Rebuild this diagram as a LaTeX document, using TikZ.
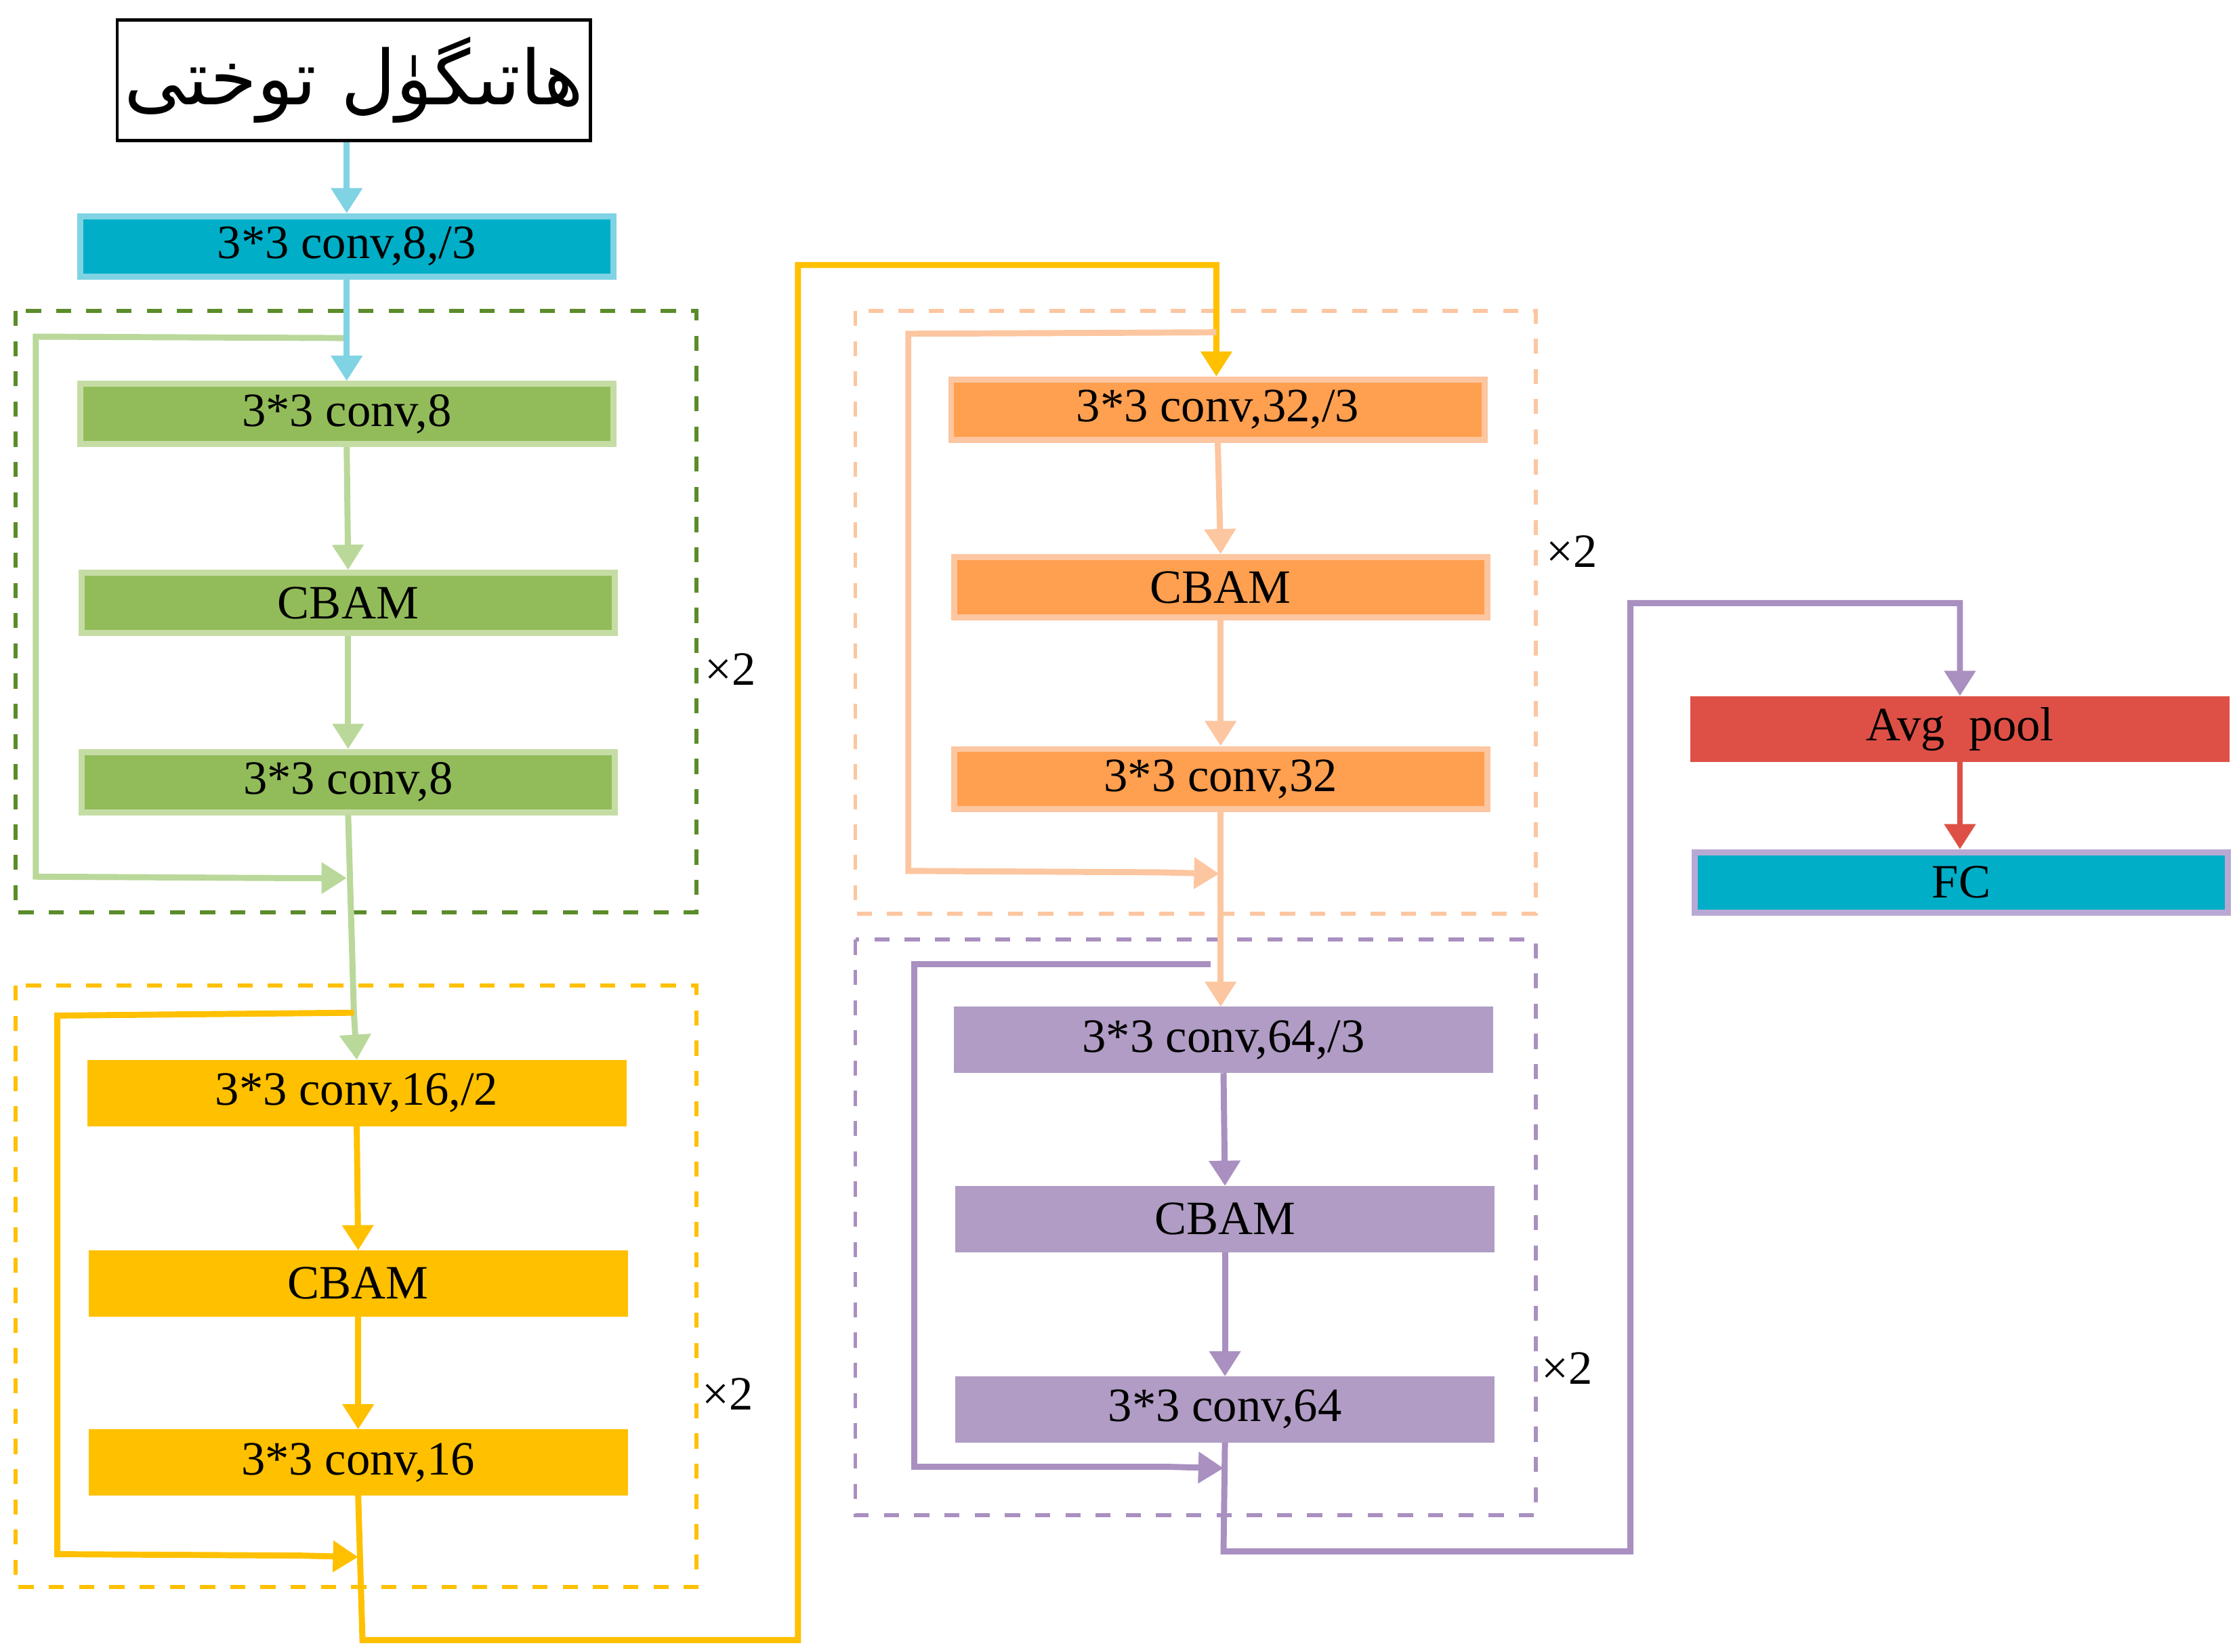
\documentclass[tikz,border=0pt]{standalone}
\usepackage{fontspec}
\setmainfont{Liberation Serif}
\newfontfamily\arabicfont[Script=Arabic]{DejaVu Sans}
\TeXXeTstate=1
\usetikzlibrary{arrows.meta}
\definecolor{cyanf}{HTML}{00AEC7}
\definecolor{cyanb}{HTML}{7FD3E3}
\definecolor{greenf}{HTML}{92BC5A}
\definecolor{greenb}{HTML}{C5DDA5}
\definecolor{greenl}{HTML}{B9D89A}
\definecolor{greend}{HTML}{5B8C2A}
\definecolor{yel}{HTML}{FFC000}
\definecolor{orf}{HTML}{FF9F50}
\definecolor{orb}{HTML}{FCC6A0}
\definecolor{purf}{HTML}{B09CC4}
\definecolor{purl}{HTML}{A990C0}
\definecolor{redf}{HTML}{DE5046}
\definecolor{fcb}{HTML}{B7A9D4}
\begin{document}
\begin{tikzpicture}[x=0.01cm,y=-0.01cm,
  blk/.style={rectangle, line width=1.2pt, minimum width=3.72cm, minimum height=0.42cm, inner sep=0pt, font=\fontsize{9.5}{11}\selectfont},
  con/.style={line width=1.2pt,-{Triangle[length=5pt,width=6pt]}},
  ln/.style={line width=1.2pt},
  grp/.style={dashed, line width=0.8pt},
  rep/.style={font=\fontsize{9.5}{11}\selectfont}]
\useasboundingbox (0,0) rectangle (1560,1153);
% input
\node[draw=black, line width=0.6pt, minimum width=3.3cm, minimum height=0.84cm, inner sep=0pt, font=\arabicfont\fontsize{15}{18}\selectfont] (img) at (247,56) {\beginR ھاتىگۈل توختى\endR};
\node[blk, fill=cyanf, draw=cyanb] (c1) at (242,172) {3*3 conv,8,/3};
% green group
\draw[grp, draw=greend] (11,217) rectangle (486,637);
\node[blk, fill=greenf, draw=greenb] (g1) at (242,289) {3*3 conv,8};
\node[blk, fill=greenf, draw=greenb] (g2) at (243,421) {CBAM};
\node[blk, fill=greenf, draw=greenb] (g3) at (243,546) {3*3 conv,8};
\node[rep] (x1) at (510,467) {×2};
% yellow group
\draw[grp, draw=yel] (11,688) rectangle (486,1108);
\node[blk, fill=yel, draw=yel] (y1) at (249,763) {3*3 conv,16,/2};
\node[blk, fill=yel, draw=yel] (y2) at (250,896) {CBAM};
\node[blk, fill=yel, draw=yel] (y3) at (250,1021) {3*3 conv,16};
\node[rep] (x2) at (508,973) {×2};
% orange group
\draw[grp, draw=orb] (597,217) rectangle (1072,638);
\node[blk, fill=orf, draw=orb] (o1) at (850,286) {3*3 conv,32,/3};
\node[blk, fill=orf, draw=orb] (o2) at (852,410) {CBAM};
\node[blk, fill=orf, draw=orb] (o3) at (852,544) {3*3 conv,32};
\node[rep] (x3) at (1097,385) {×2};
% purple group
\draw[grp, draw=purl] (597,656) rectangle (1072,1058);
\node[blk, fill=purf, draw=purf] (p1) at (854,726) {3*3 conv,64,/3};
\node[blk, fill=purf, draw=purf] (p2) at (855,851) {CBAM};
\node[blk, fill=purf, draw=purf] (p3) at (855,984) {3*3 conv,64};
\node[rep] (x4) at (1094,955) {×2};
% head
\node[blk, fill=redf, draw=redf] (ap) at (1368,509) {Avg\ \ pool};
\node[blk, fill=cyanf, draw=fcb] (fc) at (1369,616) {FC};
% coordinates
\coordinate (gs) at (243,236);
\coordinate (ge) at (242,613);
\coordinate (ys) at (247,707);
\coordinate (ye) at (250,1087);
\coordinate (os) at (849,232);
\coordinate (oe) at (851,610);
\coordinate (ps) at (845,673);
\coordinate (pe) at (854,1025);
% connectors
\draw[con, draw=cyanb] (img.south -| c1.north) -- (c1.north);
\draw[ln, draw=greenl] (gs) -- (25,235) -- (25,612) -- (200,613);
\draw[con, draw=greenl] (200,613) -- (ge);
\draw[con, draw=cyanb] (c1.south) -- (g1.north);
\draw[con, draw=greenl] (g1.south) -- (g2.north);
\draw[con, draw=greenl] (g2.south) -- (g3.north);
\draw[ln, draw=greenl] (g3.south) -- (ys);
\draw[con, draw=greenl] (ys) -- (y1.north);
\draw[ln, draw=yel] (ys) -- (40,709) -- (40,1085) -- (210,1086);
\draw[con, draw=yel] (210,1086) -- (ye);
\draw[con, draw=yel] (y1.south) -- (y2.north);
\draw[con, draw=yel] (y2.south) -- (y3.north);
\draw[con, draw=yel] (y3.south) -- (253,1145) -- (557,1145) -- (557,185) -- (849,185) -- (o1.north -| 849,185);
\draw[ln, draw=orb] (os) -- (634,233) -- (634,608) -- (810,609);
\draw[con, draw=orb] (810,609) -- (oe);
\draw[con, draw=orb] (o1.south) -- (o2.north);
\draw[con, draw=orb] (o2.south) -- (o3.north);
\draw[con, draw=orb] (o3.south) -- (p1.north -| o3.south);
\draw[ln, draw=purl] (ps) -- (638,673) -- (638,1024) -- (815,1024);
\draw[con, draw=purl] (815,1024) -- (pe);
\draw[con, draw=purl] (p1.south) -- (p2.north);
\draw[con, draw=purl] (p2.south) -- (p3.north);
\draw[con, draw=purl] (p3.south) -- (854,1083) -- (1138,1083) -- (1138,421) -- (1368,421) -- (ap.north);
\draw[con, draw=redf] (ap.south) -- (ap.south |- fc.north);
\end{tikzpicture}
\end{document}
